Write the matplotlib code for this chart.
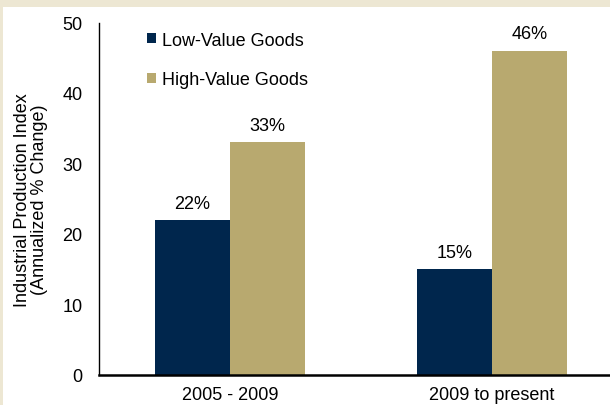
# Industrial production index bar chart
import matplotlib.pyplot as plt
import matplotlib.patches as patches
import numpy as np

plt.rcParams['font.family'] = ['Liberation Sans', 'DejaVu Sans']

periods = ['2005 - 2009', '2009 to present']
low_value = [22, 15]
high_value = [33, 46]
series_names = ['Low-Value Goods', 'High-Value Goods']

W, H = 610, 406
fs = 13
fig = plt.figure(figsize=(W / 100, H / 100), dpi=100)
fig.patch.set_facecolor('#ede7d3')

# white panel inside beige frame
panel = patches.Rectangle((3 / W, 0), 1, 1 - 8 / H, transform=fig.transFigure,
                          facecolor='white', edgecolor='none', zorder=-10)
fig.patches.append(panel)

# axes: left spine x=99, y0 at 376, y50 at 23.5
ax = fig.add_axes([99 / W, (H - 376) / H, (623 - 99) / W, (376 - 23.5) / H])
ax.set_facecolor('none')

x = np.arange(len(periods))
w = 0.286
b1 = ax.bar(x - w / 2, low_value, w, color='#00264d', label=series_names[0])
b2 = ax.bar(x + w / 2, high_value, w, color='#b8a96f', label=series_names[1])

for bars, vals in [(b1, low_value), (b2, high_value)]:
    for bar, v in zip(bars, vals):
        ax.annotate(f'{v}%', (bar.get_x() + bar.get_width() / 2, v),
                    xytext=(0, 6), textcoords='offset points',
                    ha='center', va='bottom', fontsize=fs)

ax.set_xlim(-0.5, 1.5)
ax.set_ylim(0, 50)
ax.set_yticks([0, 10, 20, 30, 40, 50])
ax.set_xticks(x)
ax.set_xticklabels(periods)
ax.tick_params(axis='both', length=0, labelsize=fs)
ax.tick_params(axis='y', pad=12)
ax.tick_params(axis='x', pad=8)

ax.spines['top'].set_visible(False)
ax.spines['right'].set_visible(False)
ax.spines['left'].set_linewidth(1.0)
ax.spines['bottom'].set_linewidth(1.8)

ax.set_ylabel('Industrial Production Index\n(Annualized % Change)', fontsize=fs,
              labelpad=10, linespacing=1.0)

ax.legend(loc='upper left', bbox_to_anchor=(0.06, 1.02), frameon=False,
          fontsize=fs, handlelength=0.5, handleheight=0.5, handletextpad=0.35,
          labelspacing=1.25)

plt.savefig('out.png', dpi=100, facecolor=fig.get_facecolor())
